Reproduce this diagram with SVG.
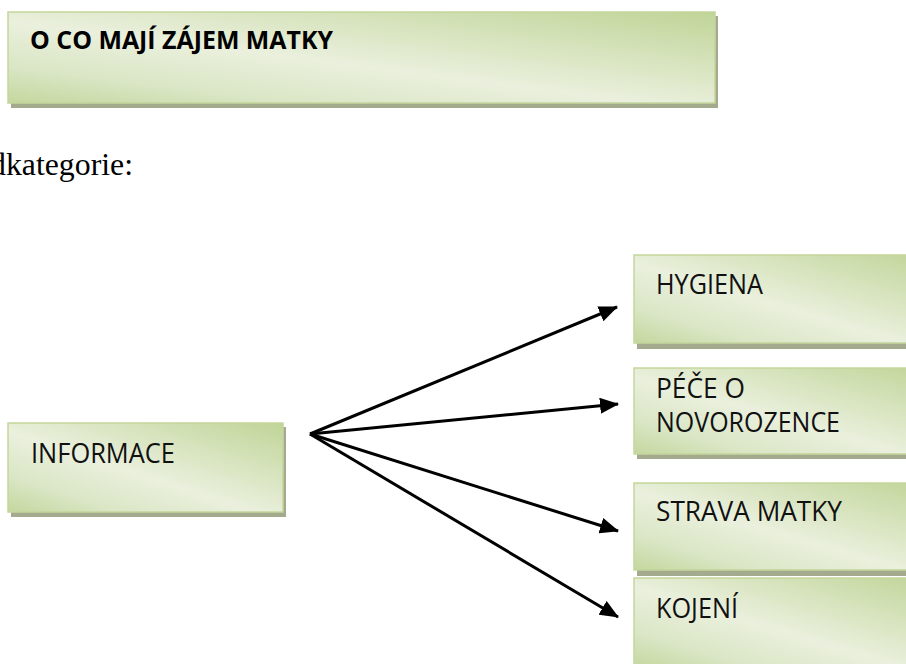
<svg xmlns="http://www.w3.org/2000/svg" width="906" height="664" viewBox="0 0 906 664">
  <style>
    .box { fill: url(#boxFill); stroke: #c3d69b; stroke-width: 1.5; }
    .shadow { fill: #a4aa8d; }
    .label { font-family: "Open Sans", "Liberation Sans", sans-serif; font-size: 26.5px; fill: #111; }
    .title { font-family: "Open Sans", "Liberation Sans", sans-serif; font-size: 25.5px; font-weight: bold; fill: #000; }
    .body { font-family: "Liberation Serif", "Times New Roman", serif; font-size: 31px; fill: #000; }
    .conn { stroke: #000; stroke-width: 3; fill: none; marker-end: url(#arrow); }
  </style>
  <defs>
    <linearGradient id="boxFill" x1="1" y1="0" x2="0" y2="1">
      <stop offset="0" stop-color="#c0d497"/>
      <stop offset="0.55" stop-color="#eaf0dd"/>
      <stop offset="0.8" stop-color="#dae6c5"/>
      <stop offset="1" stop-color="#c4d79e"/>
    </linearGradient>
    <marker id="arrow" markerUnits="userSpaceOnUse" markerWidth="20" markerHeight="16" refX="18" refY="8" orient="auto">
      <path d="M0,0 L19,8 L0,16 z" fill="#000"/>
    </marker>
  </defs>

  <rect width="906" height="664" fill="#fff"/>

  <!-- heading box -->
  <g id="title">
    <rect class="shadow" x="11" y="16" width="707" height="92"/>
    <rect class="box" x="8" y="12" width="707" height="91"/>
    <text class="title" x="30" y="49" textLength="303" lengthAdjust="spacingAndGlyphs">O CO MAJÍ ZÁJEM MATKY</text>
  </g>

  <text class="body" x="-10" y="175" textLength="143" lengthAdjust="spacingAndGlyphs">dkategorie:</text>

  <!-- source node -->
  <g id="informace">
    <rect class="shadow" x="11" y="427" width="275" height="90"/>
    <rect class="box" x="8" y="423" width="275" height="89"/>
    <text class="label" x="31" y="463" textLength="144" lengthAdjust="spacingAndGlyphs">INFORMACE</text>
  </g>

  <!-- target nodes -->
  <g id="hygiena">
    <rect class="shadow" x="637" y="259" width="300" height="90"/>
    <rect class="box" x="634" y="255" width="300" height="88"/>
    <text class="label" x="656" y="294" textLength="107" lengthAdjust="spacingAndGlyphs">HYGIENA</text>
  </g>

  <g id="pece">
    <rect class="shadow" x="637" y="372" width="300" height="87"/>
    <rect class="box" x="634" y="368" width="300" height="86"/>
    <text class="label" x="656" y="398" textLength="89" lengthAdjust="spacingAndGlyphs">PÉČE O</text>
    <text class="label" x="656" y="432" textLength="184" lengthAdjust="spacingAndGlyphs">NOVOROZENCE</text>
  </g>

  <g id="strava">
    <rect class="shadow" x="637" y="487" width="300" height="89"/>
    <rect class="box" x="634" y="483" width="300" height="87"/>
    <text class="label" x="656" y="521" textLength="186" lengthAdjust="spacingAndGlyphs">STRAVA MATKY</text>
  </g>

  <g id="kojeni">
    <rect class="shadow" x="637" y="582" width="300" height="90"/>
    <rect class="box" x="634" y="578" width="300" height="90"/>
    <text class="label" x="656" y="618" textLength="82" lengthAdjust="spacingAndGlyphs">KOJENÍ</text>
  </g>

  <!-- connectors -->
  <g id="connectors">
    <line class="conn" x1="310" y1="434" x2="617" y2="307"/>
    <line class="conn" x1="310" y1="434" x2="618" y2="404"/>
    <line class="conn" x1="310" y1="434" x2="618" y2="531"/>
    <line class="conn" x1="310" y1="434" x2="618" y2="617"/>
  </g>
</svg>
